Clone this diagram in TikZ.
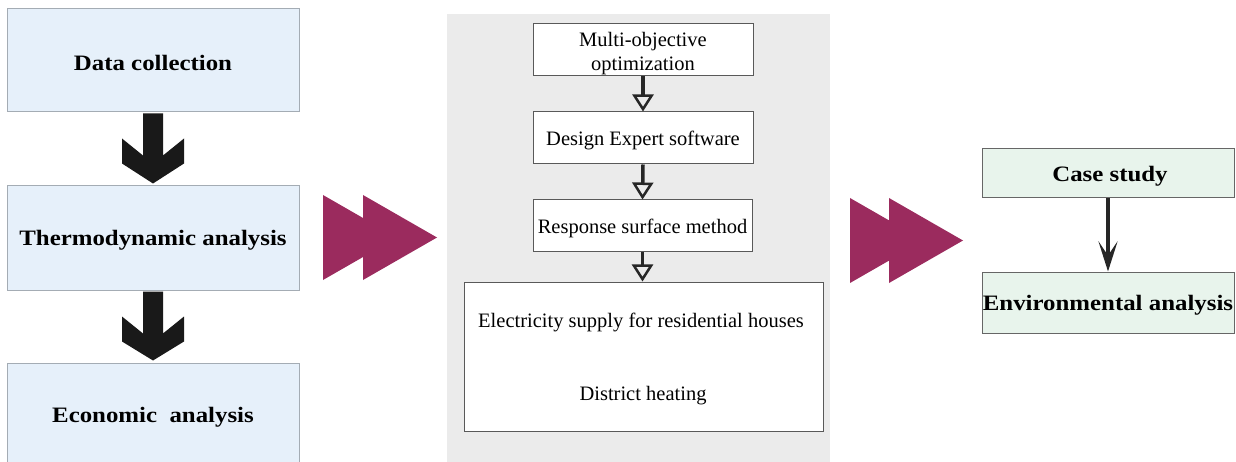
\documentclass[tikz,border=0pt]{standalone}
\usepackage{fontspec}
\setmainfont{Liberation Serif}
\newfontfamily\bst{Liberation Serif}[FakeStretch=1.13]
\usetikzlibrary{arrows.meta,calc}
\definecolor{lblue}{HTML}{E6F0FA}
\definecolor{lgreen}{HTML}{E8F4EC}
\definecolor{panel}{HTML}{EBEBEB}
\definecolor{magent}{HTML}{9B2B5E}
\definecolor{bluegray}{HTML}{A4ACB4}
\tikzset{
  x=1pt,y=-1pt,
  boldtxt/.style={font=\bst\bfseries\fontsize{22}{26}\selectfont},
  regtxt/.style={font=\fontsize{20.5}{24}\selectfont},
  leftbox/.style={draw=bluegray,line width=1pt,fill=lblue,minimum width=292pt,inner sep=0pt,boldtxt},
  midbox/.style={draw=black!65,line width=1pt,fill=white,inner sep=0pt,align=center,regtxt},
  rightbox/.style={draw=black!60,line width=1pt,fill=lgreen,inner sep=0pt,boldtxt},
  lbl/.style={inner sep=0pt,yshift=-2.5pt},
  blockarrow/.style={fill=black!90,draw=none},
  playtri/.style={fill=magent,draw=none},
  openarrow/.style={draw=black!85,line width=3.5pt,-{Triangle[open,length=17pt,width=21pt,line width=2.5pt]}},
  thinarrow/.style={draw=black!85,line width=4.5pt,-{Stealth[length=30pt,width=19pt,inset=14pt]}},
}
\begin{document}
\begin{tikzpicture}
\useasboundingbox (0,0) rectangle (1236,462);
% left column
\node[leftbox,minimum height=103pt] (b1) at (153,60.5) {};
\node[leftbox,minimum height=104pt] (b2) at (153,238) {};
\node[leftbox,minimum height=103pt] (b3) at (153,414.5) {};
\node[lbl,boldtxt] (b1t) at (b1) {Data collection};
\node[lbl,boldtxt] (b2t) at (b2) {Thermodynamic analysis};
\node[lbl,boldtxt] (b3t) at (b3) {Economic\ \ analysis};
% block arrows
\foreach \s/\t in {b1/b2,b2/b3}{
  \fill[blockarrow] ($(\s.south)+(-10,1)$) -- ($(\s.south)+(10,1)$) -- ($(\s.south)+(10,43)$)
    -- ($(\s.south)+(31,26)$) -- ($(\s.south)+(31,51)$) -- ($(\t.north)+(0,-2)$)
    -- ($(\s.south)+(-31,51)$) -- ($(\s.south)+(-31,26)$) -- ($(\s.south)+(-10,43)$) -- cycle;
}
% gray panel
\node[fill=panel,draw=none,minimum width=383pt,minimum height=460pt,inner sep=0pt,anchor=north west] (panel) at (447,14) {};
% play triangles 1
\coordinate (t1) at (323,195);
\fill[playtri] (t1) -- ++(74,42.5) -- ++(-74,42.5) -- cycle;
\fill[playtri] ($(t1)+(40,0)$) -- ++(74,42.5) -- ++(-74,42.5) -- cycle;
% middle boxes
\node[midbox,minimum width=220pt,minimum height=52pt] (m1) at (643,50) {};
\node[midbox,minimum width=220pt,minimum height=52pt] (m2) at (643,138) {};
\node[midbox,minimum width=219pt,minimum height=52pt] (m3) at (642.5,226) {};
\node[midbox,minimum width=359pt,minimum height=149pt] (m4) at (643.5,356.5) {};
\node[lbl,regtxt,align=center,yshift=-1pt] (m1t) at (m1) {Multi-objective\\optimization};
\node[lbl,regtxt] (m2t) at (m2) {Design Expert software};
\node[lbl,regtxt] (m3t) at (m3) {Response surface method};
\node[lbl,regtxt] (m4a) at (641,320) {Electricity supply for residential houses};
\node[lbl,regtxt,yshift=-1.5pt] (m4b) at (643,392) {District heating};
\draw[openarrow] (m1.south) -- (m2.north);
\draw[openarrow] (m2.south) -- (m3.north);
\draw[openarrow] (m3.south) -- (m3.south|-m4.north);
% play triangles 2
\coordinate (t2) at (850,198);
\fill[playtri] (t2) -- ++(74,42.5) -- ++(-74,42.5) -- cycle;
\fill[playtri] ($(t2)+(39,0)$) -- ++(74,42.5) -- ++(-74,42.5) -- cycle;
% right column
\node[rightbox,minimum width=252pt,minimum height=49pt] (r1) at (1108,173.5) {};
\node[rightbox,minimum width=252pt,minimum height=61pt] (r2) at (1108,302.5) {};
\node[lbl,boldtxt] (r1t) at (1110,173.5) {Case study};
\node[lbl,boldtxt] (r2t) at (r2) {Environmental analysis};
\draw[thinarrow] (r1.south) -- (r1.south|-r2.north);
\end{tikzpicture}
\end{document}
